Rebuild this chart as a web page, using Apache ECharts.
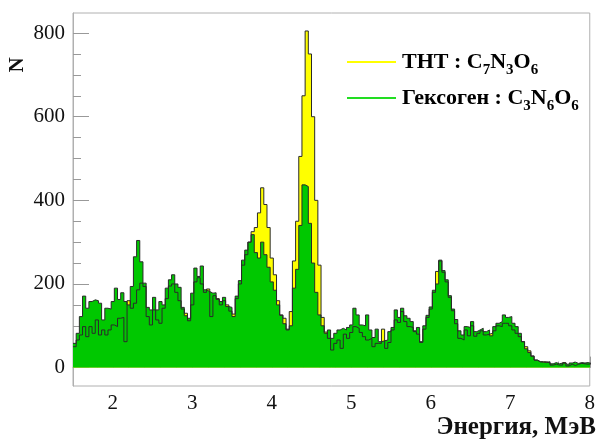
<!DOCTYPE html>
<html><head><meta charset="utf-8">
<script src="https://cdn.jsdelivr.net/npm/echarts@6/dist/echarts.min.js"></script>
<style>html,body{margin:0;padding:0;background:#fff}#c{width:598px;height:439px}</style>
</head><body><div id="c"></div>
<script>
// Histogram binning (MeV)
const binStart = 1.5;
const binWidth = 0.04;

// ТНТ : C7N3O6 counts per bin
const tntValues = [50,66,78,98,74,98,82,114,78,90,
78,90,102,98,118,120,62,160,142,154,
186,202,194,122,102,138,114,106,142,165,
195,200,180,160,140,130,112,150,205,215,
200,180,188,122,172,165,150,160,150,135,
128,165,200,245,270,300,325,335,370,430,
390,335,262,222,160,126,118,90,134,255,
350,505,650,805,750,600,400,245,120,85,
70,42,58,66,46,80,70,84,98,94,
84,74,66,70,50,58,58,92,46,60,
90,114,108,134,110,98,96,86,80,60,
92,120,140,180,230,255,228,205,168,136,
105,70,66,90,76,100,75,82,88,78,
80,82,88,100,98,106,106,100,90,82,
74,62,50,40,28,18,14,14,14,12,
6,8,6,6,12,4,8,5,8,10,
9,8,9];

// Гексоген : C3N6O6 counts per bin
const hexValues = [58,82,122,171,142,158,162,160,154,114,
142,140,158,190,163,179,158,150,194,265,
304,253,202,144,138,168,138,158,150,190,
210,222,200,192,144,124,118,178,238,218,
243,186,182,178,179,163,158,168,146,144,
122,171,208,257,281,300,318,275,262,300,
270,240,205,185,150,125,105,92,100,190,
235,340,437,433,345,250,180,126,100,82,
90,70,82,90,94,90,96,102,142,126,
102,100,126,90,72,92,62,64,66,86,
96,138,120,142,124,118,110,88,96,62,
100,125,145,185,200,257,232,210,172,140,
115,88,78,98,96,110,86,90,94,86,
90,76,98,106,110,126,120,122,106,98,
82,62,45,36,27,18,14,13,12,14,
9,12,9,11,10,6,11,13,10,12,
11,12,10];

const xTickLabels = [2,3,4,5,6,7,8];
const xMinorTicks = [1.6,1.8,2.0,2.2,2.4,2.6,2.8,3.0,3.2,3.4,3.6,3.8,4.0,4.2,4.4,4.6,4.8,5.0,5.2,5.4,5.6,5.8,6.0,6.2,6.4,6.6,6.8,7.0,7.2,7.4,7.6,7.8,8.0];
const yTickLabels = [0,200,400,600,800];
const yMinorTicks = [0,50,100,150,200,250,300,350,400,450,500,550,600,650,700,750,800];

const serif = "Liberation Serif";

function toSteps(vals){
  const pts = vals.map((v,i)=>[+(binStart+i*binWidth).toFixed(4), v]);
  pts.push([+(binStart+vals.length*binWidth).toFixed(4), vals[vals.length-1]]);
  return pts;
}

const chart = echarts.init(document.getElementById('c'), null, {renderer:'canvas'});

const tickCol = '#999';
const baseX = {type:'value', min:1.5, max:8, splitLine:{show:false}};
const baseY = {type:'value', min:-44, max:848, splitLine:{show:false}};

const sub = {fontSize:15, fontWeight:'bold', fontFamily:serif, color:'#111', padding:[12,0,0,0], verticalAlign:'top'};
const main = {fontSize:22, fontWeight:'bold', fontFamily:serif, color:'#111', verticalAlign:'top'};

chart.setOption({
  animation:false,
  backgroundColor:'#fff',
  grid:{left:73, right:1, top:13, bottom:53, show:true, borderColor:'#b0b0b0', borderWidth:1, backgroundColor:'transparent'},
  xAxis:[
    Object.assign({}, baseX, {
      axisLine:{show:true, lineStyle:{color:'#b0b0b0'}},
      axisTick:{show:true, inside:true, length:11, customValues:xTickLabels, lineStyle:{color:tickCol}},
      axisLabel:{customValues:xTickLabels, fontSize:21, fontFamily:serif, color:'#111', margin:7}
    }),
    Object.assign({}, baseX, {
      position:'bottom',
      axisLine:{show:false},
      axisTick:{show:true, inside:true, length:6, customValues:xMinorTicks, lineStyle:{color:tickCol}},
      axisLabel:{show:false}
    })
  ],
  yAxis:[
    Object.assign({}, baseY, {
      axisLine:{show:true, lineStyle:{color:'#b0b0b0'}},
      axisTick:{show:true, inside:true, length:16, customValues:yTickLabels, lineStyle:{color:tickCol}},
      axisLabel:{customValues:yTickLabels, fontSize:21, fontFamily:serif, color:'#111', margin:8}
    }),
    Object.assign({}, baseY, {
      position:'left',
      axisLine:{show:false},
      axisTick:{show:true, inside:true, length:8, customValues:yMinorTicks, lineStyle:{color:tickCol}},
      axisLabel:{show:false}
    })
  ],
  series:[
    {type:'line', name:'tntFill', step:'end', data:toSteps(tntValues), symbol:'none', silent:true,
     lineStyle:{opacity:0, width:0}, areaStyle:{color:'#ffff00', opacity:1}, z:1},
    {type:'line', name:'hexFill', step:'end', data:toSteps(hexValues), symbol:'none', silent:true,
     lineStyle:{opacity:0, width:0}, areaStyle:{color:'#00c800', opacity:1}, z:2},
    {type:'line', name:'tntLine', step:'end', data:toSteps(tntValues), symbol:'none', silent:true,
     lineStyle:{color:'#2a2a2a', width:1}, z:3},
    {type:'line', name:'hexLine', step:'end', data:toSteps(hexValues), symbol:'none', silent:true,
     lineStyle:{color:'#2a2a2a', width:1}, z:4}
  ],
  graphic:[
    {type:'line', shape:{x1:347, y1:62, x2:396, y2:62}, style:{stroke:'#ffff00', lineWidth:2}},
    {type:'line', shape:{x1:347, y1:98, x2:396, y2:98}, style:{stroke:'#22dd22', lineWidth:2}},
    {type:'text', x:402, y:51, style:{text:'{b|ТНТ : C}{s|7}{b|N}{s|3}{b|O}{s|6}', rich:{b:main, s:sub}}},
    {type:'text', x:402, y:87, style:{text:'{b|Гексоген : C}{s|3}{b|N}{s|6}{b|O}{s|6}', rich:{b:main, s:sub}}},
    {type:'text', x:18, y:65, rotation:Math.PI/2, style:{text:'N', fontSize:21, fontWeight:'bold', fontFamily:serif, fill:'#111', align:'center', verticalAlign:'middle'}},
    {type:'text', x:596, y:428, style:{text:'Энергия, МэВ', fontSize:25, fontWeight:'bold', fontFamily:serif, fill:'#111', align:'right', verticalAlign:'middle'}}
  ]
});
</script></body></html>
